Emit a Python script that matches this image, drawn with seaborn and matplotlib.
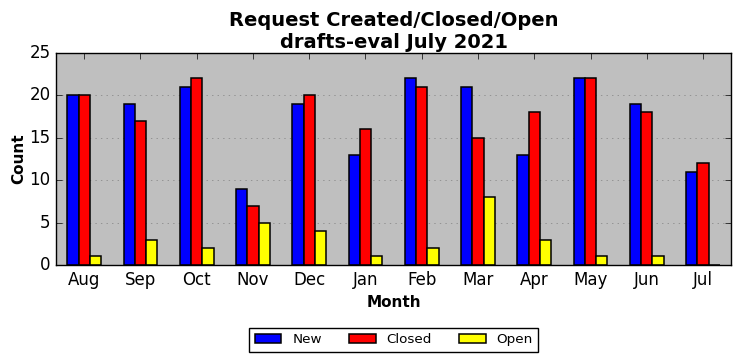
import pandas as pd
import matplotlib
matplotlib.use('Agg')
import matplotlib.pyplot as plt
import seaborn as sns

months = ['Aug', 'Sep', 'Oct', 'Nov', 'Dec', 'Jan', 'Feb', 'Mar', 'Apr', 'May', 'Jun', 'Jul']
new = [20, 19, 21, 9, 19, 13, 22, 21, 13, 22, 19, 11]
closed = [20, 17, 22, 7, 20, 16, 21, 15, 18, 22, 18, 12]
open_ = [1, 3, 2, 5, 4, 1, 2, 8, 3, 1, 1, 0]

df = pd.DataFrame({'Month': months, 'New': new, 'Closed': closed, 'Open': open_})
df_long = df.melt(id_vars='Month', var_name='Status', value_name='Count')

plt.style.use('classic')
fig = plt.figure(figsize=(7.42, 3.61), dpi=100)
ax = fig.add_axes([0.0755, 0.266, 0.91, 0.587])
ax.set_facecolor('#bfbfbf')

sns.barplot(data=df_long, x='Month', y='Count', hue='Status', order=months,
            hue_order=['New', 'Closed', 'Open'], palette=['blue', 'red', 'yellow'],
            width=0.6, edgecolor='black', linewidth=1.1, saturation=1, ax=ax)

ax.set_xlim(-0.5, 11.5)
ax.set_ylim(0, 25)
ax.yaxis.grid(True, linestyle=':', color='gray')
ax.xaxis.grid(False)
ax.set_axisbelow(True)
ax.set_xlabel('Month', fontsize=11, fontweight='bold')
ax.set_ylabel('Count', fontsize=11, fontweight='bold', labelpad=2)
ax.set_title('Request Created/Closed/Open\ndrafts-eval July 2021', fontsize=14, fontweight='bold', pad=4)
ax.legend(loc='upper center', bbox_to_anchor=(0.5, -0.265), ncol=3, fontsize=9.7)

plt.savefig('out.png', dpi=100)
